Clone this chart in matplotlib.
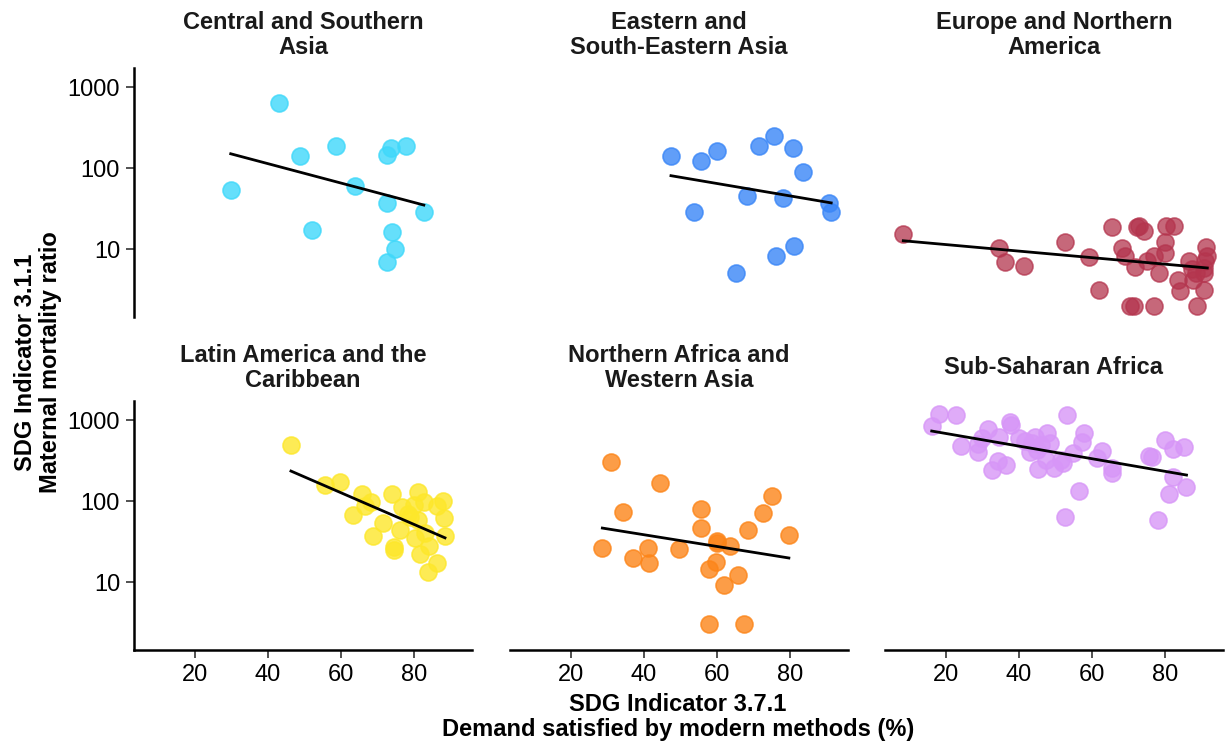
import numpy as np
import matplotlib
matplotlib.use("Agg")
import matplotlib.pyplot as plt
from matplotlib.ticker import FixedLocator, NullLocator

plt.rcParams['font.family'] = ['Liberation Sans', 'DejaVu Sans']

regions = ["Central and Southern\nAsia", "Eastern and\nSouth-Eastern Asia", "Europe and Northern\nAmerica",
           "Latin America and the\nCaribbean", "Northern Africa and\nWestern Asia", "Sub-Saharan Africa"]
colors = ["#3FD8FA", "#3A86F7", "#B4354E", "#FDE72A", "#FC8519", "#D796F7"]

csa_x = [42.9, 29.8, 48.9, 58.7, 52.0, 63.8, 73.6, 72.5, 77.7, 72.7, 82.7, 74.0, 74.7, 72.6]
csa_y = [640, 53, 142, 187, 17, 60, 178, 145, 185, 37, 29, 16, 10, 7.0]

esa_x = [47.4, 55.6, 59.9, 71.6, 75.6, 80.7, 83.5, 68.1, 78.2, 90.7, 91.3, 53.7, 81.0, 76.2, 65.2]
esa_y = [142, 123, 162, 187, 250, 178, 90, 45, 43, 37, 29, 29, 11, 8.1, 5.1]

ena_x = [8.3, 34.6, 36.1, 41.5, 52.6, 59.2, 62.0, 65.5, 68.2, 69.1, 72.4, 73.0, 74.3, 71.7, 75.0,
         77.1, 78.4, 79.9, 80.0, 80.4, 82.6, 83.5, 84.0, 86.7, 87.8, 88.6, 90.8, 91.3, 91.6, 90.9,
         90.7, 88.8, 77.0, 70.3, 71.4, 90.6, 87.5]
ena_y = [15.2, 10.2, 7.0, 6.1, 12.1, 8.0, 3.1, 18.8, 10.2, 8.2, 18.8, 19.0, 16.8, 6.0, 7.1,
         8.3, 5.0, 12.1, 9.0, 19.0, 19.0, 4.1, 3.0, 7.1, 4.1, 5.0, 5.0, 10.5, 8.2, 7.1,
         3.1, 2.0, 2.0, 2.0, 2.0, 5.8, 5.6]

lac_x = [46.3, 55.6, 59.6, 65.8, 68.2, 66.7, 63.4, 74.1, 76.7, 78.3, 71.4, 68.7, 76.3, 74.4, 81.0,
         82.7, 79.9, 81.2, 80.3, 83.0, 84.2, 81.6, 86.2, 83.9, 87.9, 86.2, 88.3, 88.5, 79.0, 74.6]
lac_y = [488, 159, 170, 122, 97, 87, 68, 122, 84, 70, 53, 37, 44, 27, 130,
         98, 89, 59, 35, 40, 28, 22, 17, 13.2, 101, 87, 61, 37, 64, 25]

nawa_x = [30.9, 44.3, 34.2, 28.6, 37.0, 41.2, 41.5, 49.7, 55.7, 55.6, 59.9, 59.9, 63.5, 59.7, 57.7,
          62.0, 65.9, 68.6, 72.7, 75.0, 79.7, 57.9, 67.5]
nawa_y = [303, 167, 74, 26, 19.6, 26.6, 17.3, 25.5, 80, 47, 32, 30, 27.8, 17.7, 14.4,
          9.2, 12.2, 44, 72, 114, 38, 3.0, 3.0]

ssa_x = [18.1, 22.7, 16.1, 24.1, 28.9, 28.9, 31.4, 29.8, 34.5, 32.5, 34.3, 36.4, 37.5, 37.9, 39.9,
         41.6, 42.9, 44.5, 45.2, 47.7, 46.1, 48.4, 47.5, 49.7, 52.0, 51.4, 53.2, 54.7, 57.7, 57.3,
         56.5, 52.5, 62.7, 61.4, 65.4, 65.6, 75.6, 76.5, 80.1, 82.2, 85.3, 82.1, 81.0, 85.9, 78.0,
         45.0, 43.5]
ssa_y = [1176, 1150, 850, 482, 398, 500, 768, 594, 611, 241, 312, 278, 937, 866, 594,
         556, 406, 622, 248, 684, 490, 524, 320, 254, 292, 320, 1143, 388, 684, 539,
         134, 63, 414, 337, 253, 220, 360, 346, 566, 438, 468, 199, 122, 148, 59,
         430, 520]

xs = [csa_x, esa_x, ena_x, lac_x, nawa_x, ssa_x]
ys = [csa_y, esa_y, ena_y, lac_y, nawa_y, ssa_y]

x_ticks = [20, 40, 60, 80]
y_ticks = [10, 100, 1000]

W, H = 1225, 742
fig = plt.figure(figsize=(W / 100, H / 100), dpi=100)

lefts = [134, 510, 885]
tops = [68, 401]
pw, ph = 338, 249

for i in range(6):
    r, c = divmod(i, 3)
    ax = fig.add_axes([lefts[c] / W, 1 - (tops[r] + ph) / H, pw / W, ph / H])
    x = np.array(xs[i], float)
    y = np.array(ys[i], float)
    alpha = 0.75 if i == 2 else 0.8
    ax.scatter(x, y, s=150, color=colors[i], alpha=alpha, edgecolors=colors[i], linewidths=1.2, zorder=2)
    b, a = np.polyfit(x, np.log10(y), 1)
    xl = np.array([x.min(), x.max()])
    ax.plot(xl, 10 ** (a + b * xl), color="black", lw=2.0, zorder=3)
    ax.set_yscale("log")
    ax.set_xlim(3.3, 95.9)
    ax.set_ylim(10 ** 0.1605, 10 ** 3.2346)
    for s in ax.spines.values():
        s.set_visible(False)
    ax.yaxis.set_major_locator(FixedLocator(y_ticks))
    ax.yaxis.set_minor_locator(NullLocator())
    ax.xaxis.set_major_locator(FixedLocator(x_ticks))
    ax.tick_params(which="both", direction="out", length=6, width=1.2, color="#333333",
                   labelsize=17, labelcolor="black", pad=4)
    if c == 0:
        ax.spines["left"].set_visible(True)
        ax.spines["left"].set_linewidth(1.8)
        ax.set_yticklabels([str(t) for t in y_ticks])
    else:
        ax.tick_params(axis="y", left=False, labelleft=False)
    if r == 1:
        ax.spines["bottom"].set_visible(True)
        ax.spines["bottom"].set_linewidth(1.8)
        ax.set_xticklabels([str(t) for t in x_ticks])
    else:
        ax.tick_params(axis="x", bottom=False, labelbottom=False)
    ax.set_facecolor("none")
    ty = tops[r] - 33
    fig.text((lefts[c] + pw / 2) / W, 1 - ty / H, regions[i], ha="center", va="center",
             fontsize=17, fontweight="bold", color="#1a1a1a", linespacing=1.1)

fig.text(38 / W, 1 - 362 / H, "SDG Indicator 3.1.1\nMaternal mortality ratio", rotation=90,
         ha="center", va="center", fontsize=17, fontweight="bold", color="black", linespacing=1.1)
fig.text(678 / W, 1 - 717 / H, "SDG Indicator 3.7.1\nDemand satisfied by modern methods (%)",
         ha="center", va="center", fontsize=17, fontweight="bold", color="black", linespacing=1.1)

fig.savefig("out.png", dpi=100, facecolor="white")
